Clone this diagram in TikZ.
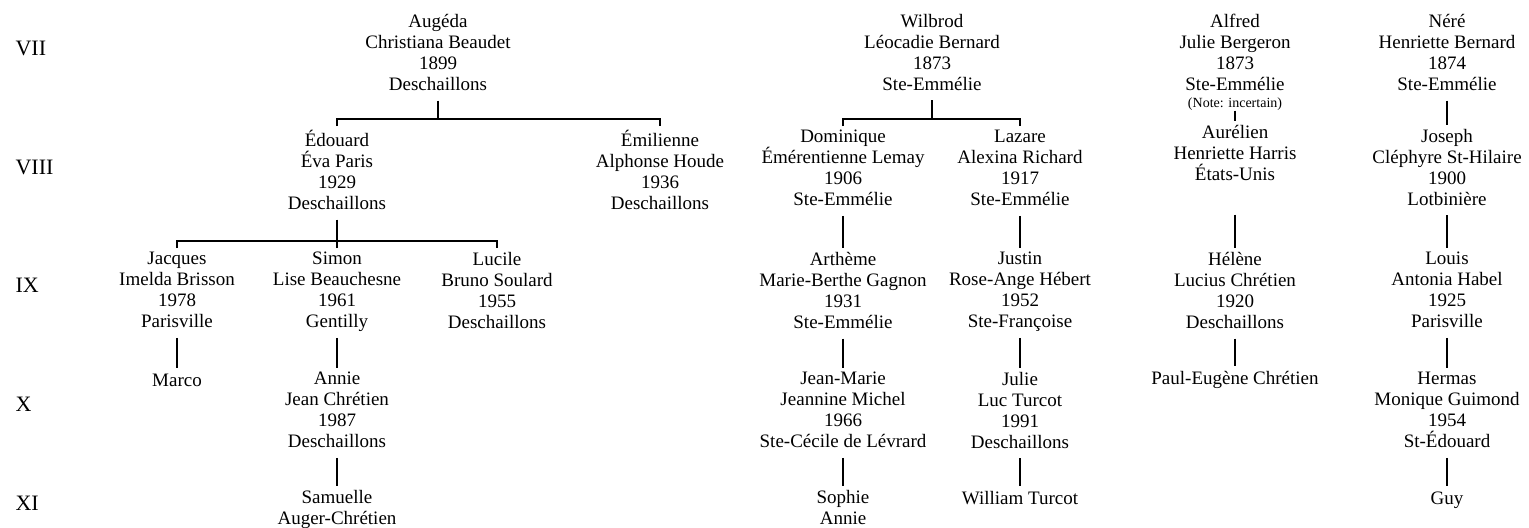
\documentclass[tikz,border=0pt]{standalone}
\usepackage{fontspec}
\setmainfont{Liberation Serif}
\usepackage{tikz}
\usetikzlibrary{positioning}

\begin{document}
\begin{tikzpicture}[x = 0.5pt, y = -0.5pt, line width = 0.6pt,
        person/.style = {align = center, anchor = north, inner sep = 0pt, outer sep = 2pt,
            font = \fontsize{9.5}{10.5}\selectfont,
            execute at begin node = \strut, execute at end node = \strut},
        gen/.style = {anchor = west, inner sep = 0pt, font = \fontsize{11}{13}\selectfont},
        note/.style = {inner sep = 0pt, font = \fontsize{7}{8}\selectfont}]
        \useasboundingbox (0, 0) rectangle (1529, 527);

        \node [gen] (g7) at (15, 48) {VII};
        \node [gen] (g8) at (15, 167) {VIII};
        \node [gen] (g9) at (15, 285) {IX};
        \node [gen] (g10) at (15, 404) {X};
        \node [gen] (g11) at (15, 503) {XI};

        \node [person] (aug) at (438, 10) {Augéda\\Christiana Beaudet\\1899\\Deschaillons};
        \node [person] (wil) at (932, 10) {Wilbrod\\Léocadie Bernard\\1873\\Ste-Emmélie};
        \node [person] (alf) at (1235, 10) {Alfred\\Julie Bergeron\\1873\\Ste-Emmélie};
        \node [note, below = -2pt of alf] (alfnote) {(Note: incertain)};
        \node [person] (ner) at (1447, 10) {Néré\\Henriette Bernard\\1874\\Ste-Emmélie};

        \node [person] (edo) at (337, 126) {Édouard\\Éva Paris\\1929\\Deschaillons};
        \node [person] (emi) at (660, 126) {Émilienne\\Alphonse Houde\\1936\\Deschaillons};
        \node [person] (dom) at (843, 126) {Dominique\\Émérentienne Lemay\\1906\\Ste-Emmélie};
        \node [person] (laz) at (1020, 126) {Lazare\\Alexina Richard\\1917\\Ste-Emmélie};
        \node [person] (aur) at (1235, 121) {Aurélien\\Henriette Harris\\États-Unis};
        \node [person] (jos) at (1447, 125) {Joseph\\Cléphyre St-Hilaire\\1900\\Lotbinière};

        \node [person] (jac) at (177, 248) {Jacques\\Imelda Brisson\\1978\\Parisville};
        \node [person] (sim) at (337, 248) {Simon\\Lise Beauchesne\\1961\\Gentilly};
        \node [person] (luc) at (497, 248) {Lucile\\Bruno Soulard\\1955\\Deschaillons};
        \node [person] (art) at (843, 248) {Arthème\\Marie-Berthe Gagnon\\1931\\Ste-Emmélie};
        \node [person] (jus) at (1020, 248) {Justin\\Rose-Ange Hébert\\1952\\Ste-Françoise};
        \node [person] (hel) at (1235, 248) {Hélène\\Lucius Chrétien\\1920\\Deschaillons};
        \node [person] (lou) at (1447, 248) {Louis\\Antonia Habel\\1925\\Parisville};

        \node [person] (mar) at (177, 368) {Marco};
        \node [person] (ann) at (337, 368) {Annie\\Jean Chrétien\\1987\\Deschaillons};
        \node [person] (jm) at (843, 368) {Jean-Marie\\Jeannine Michel\\1966\\Ste-Cécile de Lévrard};
        \node [person] (jul) at (1020, 368) {Julie\\Luc Turcot\\1991\\Deschaillons};
        \node [person] (pe) at (1235, 366) {Paul-Eugène Chrétien};
        \node [person] (her) at (1447, 368) {Hermas\\Monique Guimond\\1954\\St-Édouard};

        \node [person] (sam) at (337, 486) {Samuelle\\Auger-Chrétien};
        \node [person] (sop) at (843, 486) {Sophie\\Annie};
        \node [person] (wt) at (1020, 486) {William Turcot};
        \node [person] (guy) at (1447, 486) {Guy};

        \draw (edo.north) -- ++(0, -7) coordinate (k1) -| (emi.north);
        \draw (aug.south) -- (aug.south |- k1);
        \draw (dom.north) -- ++(0, -7) coordinate (k2) -| (laz.north);
        \draw (wil.south) -- (wil.south |- k2);
        \draw (jac.north) -- ++(0, -7) coordinate (k3) -| (luc.north);
        \draw (edo.south) -- (edo.south |- k3);
        \draw (sim.north) -- (sim.north |- k3);
        \draw (alfnote.south) -- (aur.north);
        \draw (ner.south) -- (jos.north);

        \draw (dom.south) -- (art.north) (laz.south) -- (jus.north)
            ([yshift = -12pt] aur.south) -- (hel.north) (jos.south) -- (lou.north);
        \draw (jac.south) -- (mar.north) (sim.south) -- (ann.north)
            (art.south) -- (jm.north) (jus.south) -- (jul.north)
            (hel.south) -- (pe.north) (lou.south) -- (her.north);
        \draw (ann.south) -- (sam.north) (jm.south) -- (sop.north)
            (jul.south) -- (wt.north) (her.south) -- (guy.north);
    \end{tikzpicture}
\end{document}
